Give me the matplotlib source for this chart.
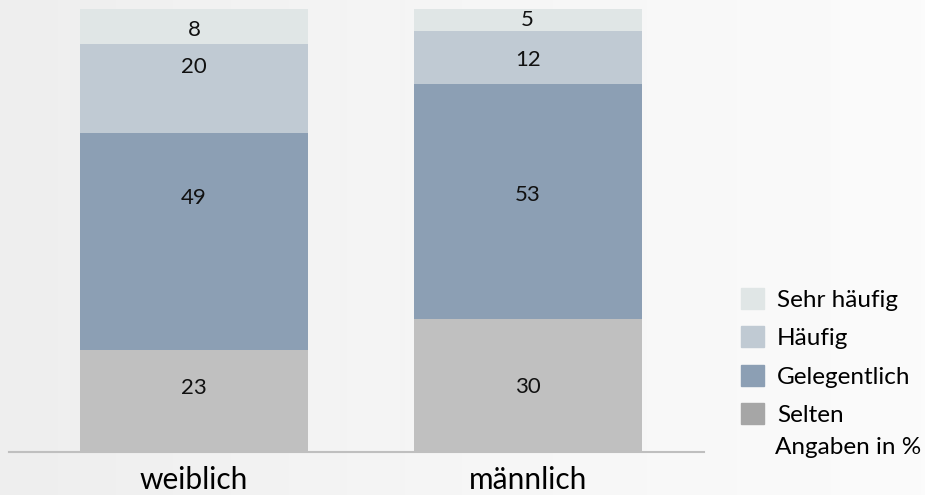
import numpy as np
import matplotlib.pyplot as plt
from matplotlib.colors import LinearSegmentedColormap
from matplotlib.patches import Patch

plt.rcParams['font.family'] = ['Lato', 'DejaVu Sans']

# Antworten nach Geschlecht, Angaben in %
gruppen = ["weiblich", "männlich"]
kategorien = ["Selten", "Gelegentlich", "Häufig", "Sehr häufig"]
selten = [23, 30]
gelegentlich = [49, 53]
haeufig = [20, 12]
sehr_haeufig = [8, 5]

farben = ["#c0c0c0", "#8c9fb4", "#c0cad3", "#e0e6e6"]
legende_farben = ["#a6a6a6", "#8c9fb4", "#c0cad3", "#e0e6e6"]
# vertikaler Versatz der Beschriftungen in Pixeln (je Segment, je Gruppe)
versatz = [[13, -1], [44, 7], [22, -2], [-3, 0]]

fig = plt.figure(figsize=(9.25, 4.95), dpi=100)

# leichter Verlauf im Hintergrund
bg = fig.add_axes([0, 0, 1, 1], zorder=-1)
verlauf = np.linspace(0, 1, 256)[None, :]
bg.imshow(verlauf, aspect="auto", extent=[0, 1, 0, 1],
          cmap=LinearSegmentedColormap.from_list("bg", ["#eeeeee", "#f6f6f6", "#fbfbfb"]))
bg.axis("off")

ax = fig.add_axes([9 / 925, 1 - 452 / 495, 695 / 925, 443 / 495])
ax.patch.set_alpha(0)

x = np.arange(len(gruppen))
unten = np.zeros(len(gruppen))
for werte, farbe, dy in zip([selten, gelegentlich, haeufig, sehr_haeufig], farben, versatz):
    ax.bar(x, werte, width=0.684, bottom=unten, color=farbe, edgecolor="none")
    for i, v in enumerate(werte):
        ax.annotate(str(v), (x[i], unten[i] + v / 2), xytext=(0, dy[i]),
                    textcoords="offset pixels", ha="center", va="center",
                    fontsize=16, color="#111111")
    unten += werte

ax.set_xlim(-0.555, 1.529)
ax.set_ylim(0, 100)
ax.set_xticks(x)
ax.set_xticklabels(gruppen, fontsize=21.5)
ax.tick_params(axis="x", length=0, pad=10)
ax.set_yticks([])
for s in ["top", "right", "left"]:
    ax.spines[s].set_visible(False)
ax.spines["bottom"].set_color("#bfbfbf")
ax.spines["bottom"].set_linewidth(1.5)

handles = [Patch(color=c) for c in legende_farben[::-1]]
fig.legend(handles, kategorien[::-1], loc="upper left",
           bbox_to_anchor=(741 / 925, 1 - 288 / 495), frameon=False,
           fontsize=17.5, handlelength=0.93, handleheight=0.93,
           labelspacing=0.65, handletextpad=0.55, borderaxespad=0, borderpad=0)
fig.text(775 / 925, 1 - 448 / 495, "Angaben in %", fontsize=17.5, va="center")

fig.savefig("out.png", dpi=100)
